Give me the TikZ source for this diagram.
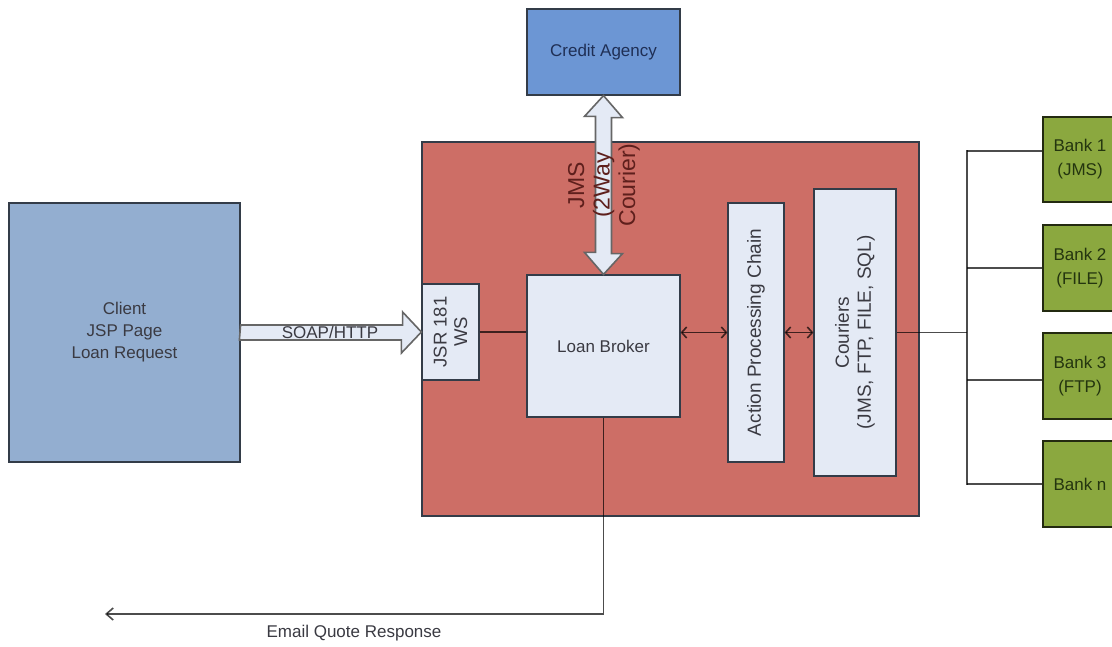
\documentclass[tikz,border=0pt]{standalone}
\usepackage{fontspec}
\setmainfont{Liberation Sans}
\usetikzlibrary{arrows.meta,calc}
\definecolor{edgec}{HTML}{333C48}
\definecolor{lightc}{HTML}{E4EAF5}
\definecolor{clientc}{HTML}{93AED0}
\definecolor{creditc}{HTML}{6C96D4}
\definecolor{redc}{HTML}{CD6E66}
\definecolor{bankc}{HTML}{8BA83F}
\definecolor{inkblue}{HTML}{1F2F55}
\definecolor{inkgray}{HTML}{3A3A42}
\definecolor{inkgreen}{HTML}{24350F}
\definecolor{inkred}{HTML}{5E1F1C}
\tikzset{
  x=1pt,y=-1pt,
  boxc/.style={draw=edgec,line width=1.2pt,inner sep=0pt,align=center,font=\fontsize{17}{22}\selectfont},
  lightbox/.style={boxc,fill=lightc,text=inkgray},
  bankbox/.style={boxc,draw=black!75!bankc,fill=bankc,text=inkgreen,minimum width=74pt,font=\fontsize{17}{24}\selectfont},
  wire/.style={draw=black,draw opacity=.7,line width=1.6pt},
  bar/.style={wire,{Straight Barb[length=5pt,width=11pt]}-{Straight Barb[length=5pt,width=11pt]}},
  fatarrow/.style={draw=black!60,fill=lightc,line width=1.6pt,line join=miter},
}
\begin{document}
\begin{tikzpicture}
\useasboundingbox (0,0) rectangle (1112,646);
\fill[white] (0,0) rectangle (1112,646);
\clip (0,0) rectangle (1112,646);
% boxes
\node[boxc,fill=redc,minimum width=497pt,minimum height=374pt] (main) at (670.5,329) {};
\node[boxc,fill=clientc,text=inkgray,minimum width=231pt,minimum height=259pt] (client) at (124.5,332.5) {Client\\JSP Page\\Loan Request};
\node[boxc,fill=creditc,text=inkblue,minimum width=153pt,minimum height=86pt] (credit) at (603.5,52) {Credit Agency};
\node[lightbox,minimum width=153pt,minimum height=142pt] (broker) at (603.5,346) {Loan Broker};
\node[lightbox,minimum width=57pt,minimum height=96pt] (jsr) at (450.5,332) {};
\node[rotate=90,align=center,text=inkgray,font=\fontsize{18.5}{20.5}\selectfont,inner sep=0pt] (jsrt) at (jsr.center) {JSR 181\\WS};
\node[lightbox,minimum width=56pt,minimum height=259pt] (apc) at (756,332.5) {};
\node[rotate=90,text=inkgray,font=\fontsize{19}{22}\selectfont,inner sep=0pt] (apct) at (apc.center) {Action Processing Chain};
\node[lightbox,minimum width=82pt,minimum height=287pt] (cour) at (855,332.5) {};
\node[rotate=90,align=center,text=inkgray,font=\fontsize{19}{22}\selectfont,inner sep=0pt] (court) at (cour.center) {Couriers\\(JMS, FTP, FILE, SQL)};
\node[bankbox,minimum height=85pt] (b1) at (1080,159.5) {Bank 1\\(JMS)};
\node[bankbox,minimum height=86pt] (b2) at (1080,268) {Bank 2\\(FILE)};
\node[bankbox,minimum height=86pt] (b3) at (1080,376) {Bank 3\\(FTP)};
\node[bankbox,minimum height=86pt] (bn) at (1080,484) {Bank n};
% connectors
\coordinate (bus) at (967,332.5);
\coordinate (mail) at (105,614);
\coordinate (bustop) at (967,151);
\coordinate (busthree) at (967,380);
\draw[wire] (jsr.east) -- (broker.west |- jsr.east);
\draw[bar] (broker.east |- apc.west) -- (apc.west);
\draw[bar] (apc.east) -- (cour.west);
\draw[wire] (cour.east) -- (bus);
\draw[wire,line cap=rect] (bustop) -- (bus |- bn.west);
\draw[wire] (bustop) -- (bustop -| b1.west);
\draw[wire] (bus |- b2.west) -- (b2.west);
\draw[wire] (busthree) -- (busthree -| b3.west);
\draw[wire] (bus |- bn.west) -- (bn.west);
\draw[wire,-{Straight Barb[length=7pt,width=12pt]}] (broker.south) -- (broker.south |- mail) -- (mail);
% fat arrows
\draw[fatarrow] (client.east) ++(0,-7.5) -- ++(162,0) -- ++(0,-13) -- (jsr.west) -- ++(-20,21) -- ++(0,-13) -- ++(-162,0) -- cycle;
\draw[fatarrow] (credit.south) -- ++(19,22) -- ++(-11,0) -- ++(0,136) -- ++(11,0) -- (broker.north) -- ++(-19,-22) -- ++(11,0) -- ++(0,-136) -- ++(-11,0) -- cycle;
% labels
\node[inner sep=0pt,text=inkgray,font=\fontsize{17}{20}\selectfont] (soap) at (330,332) {SOAP/HTTP};
\node[rotate=90,align=center,inner sep=0pt,text=inkred,font=\fontsize{23}{25.5}\selectfont] (jms) at (604,185) {JMS\\(2Way\\Courier)};
\node[inner sep=0pt,text=inkgray,font=\fontsize{17}{20}\selectfont] (email) at (354,633) {Email Quote Response};
\end{tikzpicture}
\end{document}
